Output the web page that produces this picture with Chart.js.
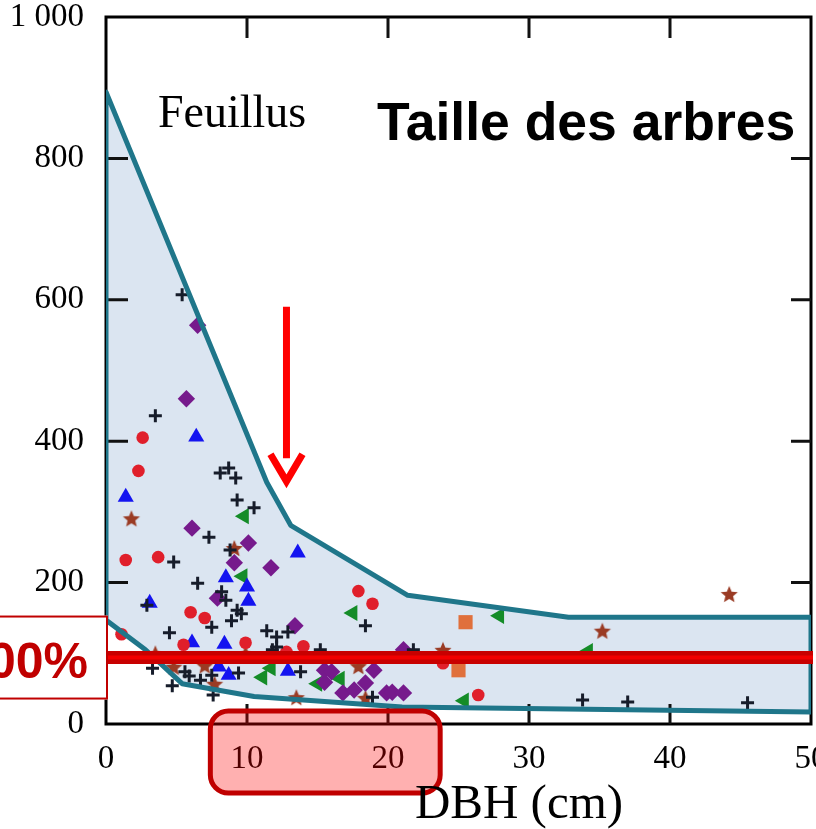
<!DOCTYPE html>
<html lang="fr">
<head>
    <meta charset="UTF-8">
    <title>Taille des arbres</title>
    <script src="https://cdn.jsdelivr.net/npm/chart.js@4.4.0/dist/chart.umd.min.js"></script>
    <style>
        body { margin: 0; background: #fff; overflow: hidden; }
        #wrap { width: 821px; height: 829px; position: relative; }
    </style>
</head>
<body>
<div id="wrap"><canvas id="treeChart"></canvas></div>
<script>
    // Axis ticks
    const X_TICKS = [0, 10, 20, 30, 40, 50];
    const Y_TICKS = [0, 200, 400, 600, 800, 1000];

    // Envelope of the cloud, closed outline [DBH, height]
    const envelope = [[0, 147], [0, 894], [11.4, 342], [13.1, 281], [21.4, 182], [32.8, 151], [50, 151],
        [50, 17], [21, 24], [10.5, 39], [5.4, 57], [2.8, 105], [0, 147]];

    // Reference level, arrow and highlighted DBH range
    const REF_LEVEL = 94;
    const ARROW_X = 12.8, ARROW_TOP = 590, ARROW_TIP = 339;
    const DBH_RANGE = [7.4, 23.7];

    // Trees by species group [DBH, height]
    const crossPts = [[5.4, 607], [3.5, 436], [8.1, 355], [8.7, 362], [9.2, 348], [9.3, 317], [10.5, 306],
        [7.3, 264], [8.8, 246], [4.8, 229], [2.9, 168], [6.5, 199], [8.2, 187], [8.5, 175], [9.3, 161],
        [8.9, 146], [9.6, 156], [4.5, 129], [7.5, 137], [3.3, 79], [4.7, 54], [5.6, 74], [5.9, 68],
        [6.7, 62], [7.5, 69], [7.6, 41], [9.4, 72], [11.4, 132], [12.1, 123], [12.9, 130], [12.1, 109],
        [11.8, 105], [15.2, 105], [18.4, 139], [13.8, 74], [18.9, 38], [21.8, 105], [33.8, 34],
        [37.0, 31], [45.5, 30]];
    const redPts = [[2.6, 405], [2.3, 358], [1.4, 232], [3.7, 236], [6.0, 158], [7.0, 150], [1.1, 127],
        [5.5, 112], [9.9, 115], [14.0, 110], [12.8, 102], [17.9, 188], [18.9, 170], [23.9, 86], [26.4, 41]];
    const bluePts = [[6.4, 406], [1.4, 321], [13.6, 242], [3.1, 171], [8.5, 207], [10.0, 194], [10.1, 174],
        [6.1, 115], [8.4, 113], [8.0, 81], [8.7, 69], [12.9, 75]];
    const purplePts = [[6.5, 564], [5.7, 460], [6.1, 277], [10.1, 256], [9.1, 228], [11.7, 221], [7.9, 178],
        [13.4, 139], [21.1, 105], [15.5, 76], [16.0, 74], [15.5, 59], [18.4, 58], [19.0, 76], [16.8, 44],
        [17.6, 48], [19.9, 44], [20.3, 45], [21.1, 44]];
    const brownPts = [[1.8, 291], [9.1, 249], [3.5, 100], [4.8, 81], [7.0, 83], [7.7, 57], [9.9, 100],
        [17.9, 82], [13.5, 38], [18.4, 37], [23.9, 105], [35.2, 132], [44.2, 184]];
    const greenPts = [[9.8, 294], [9.7, 209], [17.5, 157], [27.9, 153], [34.2, 103], [25.4, 33], [11.1, 66],
        [11.7, 79], [16.6, 64], [15.0, 57]];
    const orangePts = [[25.5, 144], [25.0, 76]];

    const xy = pts => pts.map(([x, y]) => ({x, y}));

    // filled five-point star used as point style
    function starImage(r, color) {
        const c = document.createElement('canvas');
        const s = Math.ceil(r * 2 + 2);
        c.width = c.height = s;
        const g = c.getContext('2d');
        g.fillStyle = color;
        g.beginPath();
        for (let i = 0; i < 10; i++) {
            const rr = i % 2 ? r * 0.45 : r;
            const a = -Math.PI / 2 + i * Math.PI / 5;
            g.lineTo(s / 2 + rr * Math.cos(a), s / 2 + 1 + rr * Math.sin(a));
        }
        g.closePath();
        g.fill();
        return c;
    }

    function markers(pts, style, color, radius, extra) {
        return Object.assign({
            data: xy(pts),
            pointStyle: style,
            pointRadius: radius,
            pointHoverRadius: radius,
            backgroundColor: color,
            borderColor: color,
            borderWidth: 0,
            order: 1
        }, extra || {});
    }

    // Frame with inward ticks
    const framePlugin = {
        id: 'frame',
        beforeDatasetsDraw(chart) {
            const {ctx, chartArea: a, scales: {x, y}} = chart;
            ctx.save();
            ctx.strokeStyle = '#000';
            ctx.lineWidth = 3;
            ctx.strokeRect(a.left, a.top, a.right - a.left, a.bottom - a.top);
            ctx.strokeStyle = '#111';
            ctx.beginPath();
            X_TICKS.slice(1, -1).forEach(v => {
                const px = x.getPixelForValue(v);
                ctx.moveTo(px, a.bottom); ctx.lineTo(px, a.bottom - 20);
                ctx.moveTo(px, a.top); ctx.lineTo(px, a.top + 21);
            });
            Y_TICKS.slice(1, -1).forEach(v => {
                const py = y.getPixelForValue(v);
                ctx.moveTo(a.left, py); ctx.lineTo(a.left + 22, py);
                ctx.moveTo(a.right, py); ctx.lineTo(a.right - 20, py);
            });
            ctx.stroke();
            ctx.restore();
        }
    };

    // Annotations: red level band, arrow, highlight box, texts
    const notesPlugin = {
        id: 'notes',
        afterDatasetsDraw(chart) {
            const {ctx, chartArea: a, scales: {x, y}} = chart;
            const by = y.getPixelForValue(REF_LEVEL);
            ctx.save();
            ctx.lineCap = 'butt';
            ctx.strokeStyle = '#c80000';
            ctx.lineWidth = 13;
            ctx.beginPath(); ctx.moveTo(a.left, by); ctx.lineTo(a.right + 2, by); ctx.stroke();
            ctx.strokeStyle = '#f20000';
            ctx.lineWidth = 4;
            ctx.beginPath(); ctx.moveTo(a.left, by); ctx.lineTo(a.right + 2, by); ctx.stroke();

            // arrow
            const ax = x.getPixelForValue(ARROW_X);
            const top = y.getPixelForValue(ARROW_TOP);
            const tip = y.getPixelForValue(ARROW_TIP);
            ctx.strokeStyle = '#ff0000';
            ctx.lineWidth = 7;
            ctx.beginPath(); ctx.moveTo(ax, top); ctx.lineTo(ax, tip - 26); ctx.stroke();
            ctx.lineJoin = 'miter';
            ctx.beginPath();
            ctx.moveTo(ax - 16, tip - 30); ctx.lineTo(ax, tip - 3); ctx.lineTo(ax + 16, tip - 30);
            ctx.stroke();
            ctx.restore();
        },
        afterDraw(chart) {
            const {ctx, chartArea: a, scales: {x, y}} = chart;
            const by = y.getPixelForValue(REF_LEVEL);
            ctx.save();

            // highlighted DBH range under the axis
            const x0 = x.getPixelForValue(DBH_RANGE[0]), x1 = x.getPixelForValue(DBH_RANGE[1]);
            ctx.beginPath();
            ctx.roundRect(x0, a.bottom - 13, x1 - x0, 82, 18);
            ctx.fillStyle = 'rgba(255, 0, 0, 0.31)';
            ctx.fill();
            ctx.strokeStyle = '#c00000';
            ctx.lineWidth = 5;
            ctx.stroke();

            // "100%" label box at the level band
            ctx.fillStyle = '#fff';
            ctx.fillRect(0, by - 42, a.left + 2, 84);
            ctx.strokeStyle = '#c00000';
            ctx.lineWidth = 2;
            ctx.strokeRect(-2, by - 41, a.left + 3, 82);
            ctx.fillStyle = '#c00000';
            ctx.font = 'bold 50px "Liberation Sans", Arial, sans-serif';
            ctx.textAlign = 'right';
            ctx.textBaseline = 'alphabetic';
            ctx.fillText('100%', a.left - 18, by + 20);

            ctx.fillStyle = '#000';
            ctx.textAlign = 'left';
            ctx.font = '46px "Liberation Serif", "Times New Roman", serif';
            ctx.fillText('Feuillus', 158, 127);
            ctx.font = 'bold 53.5px "Liberation Sans", Arial, sans-serif';
            ctx.fillText('Taille des arbres', 377, 140);

            ctx.textAlign = 'center';
            ctx.font = '49px "Liberation Serif", "Times New Roman", serif';
            ctx.fillText('DBH (cm)', 519, 818);
            ctx.restore();
        }
    };

    const tickFont = {family: '"Liberation Serif", "Times New Roman", serif', size: 33, lineHeight: 1};

    new Chart(document.getElementById('treeChart'), {
        type: 'scatter',
        data: {
            datasets: [
                {
                    type: 'line',
                    data: xy(envelope),
                    borderColor: '#1f768a',
                    borderWidth: 5,
                    borderJoinStyle: 'round',
                    backgroundColor: '#dbe5f1',
                    fill: 'shape',
                    pointRadius: 0,
                    tension: 0,
                    order: 0
                },
                markers(crossPts, 'cross', '#161c2a', 6.5, {borderWidth: 3}),
                markers(redPts, 'circle', '#e01f2b', 6.3),
                markers(bluePts, 'triangle', '#1414f0', 9.3),
                markers(purplePts, 'rectRot', '#761a8c', 8.7),
                markers(brownPts, starImage(9, '#9a3b24'), '#9a3b24', 9),
                markers(greenPts, 'triangle', '#148c28', 9.3, {pointRotation: -90}),
                markers(orangePts, 'rect', '#e0703c', 10)
            ]
        },
        options: {
            responsive: true,
            maintainAspectRatio: false,
            animation: false,
            layout: {padding: {top: 17, right: 0, left: 0, bottom: 0}},
            plugins: {
                legend: {display: false},
                tooltip: {enabled: false},
                filler: {drawTime: 'beforeDatasetsDraw'}
            },
            scales: {
                x: {
                    type: 'linear',
                    min: 0,
                    max: 50,
                    afterBuildTicks: s => { s.ticks = X_TICKS.map(v => ({value: v})); },
                    afterFit: s => { s.height = 105; s.paddingLeft = 0; s.paddingRight = 0; },
                    grid: {display: false},
                    border: {display: false},
                    ticks: {color: '#000', font: tickFont, padding: 11, maxRotation: 0, autoSkip: false}
                },
                y: {
                    type: 'linear',
                    min: 0,
                    max: 1000,
                    afterBuildTicks: s => { s.ticks = Y_TICKS.map(v => ({value: v})); },
                    afterFit: s => { s.width = 106; s.paddingTop = 0; s.paddingBottom = 0; },
                    grid: {display: false},
                    border: {display: false},
                    ticks: {
                        color: '#000',
                        font: tickFont,
                        padding: 14,
                        callback: v => String(v).replace(/\B(?=(\d{3})+(?!\d))/g, ' ')
                    }
                }
            }
        },
        plugins: [framePlugin, notesPlugin]
    });
</script>
</body>
</html>
